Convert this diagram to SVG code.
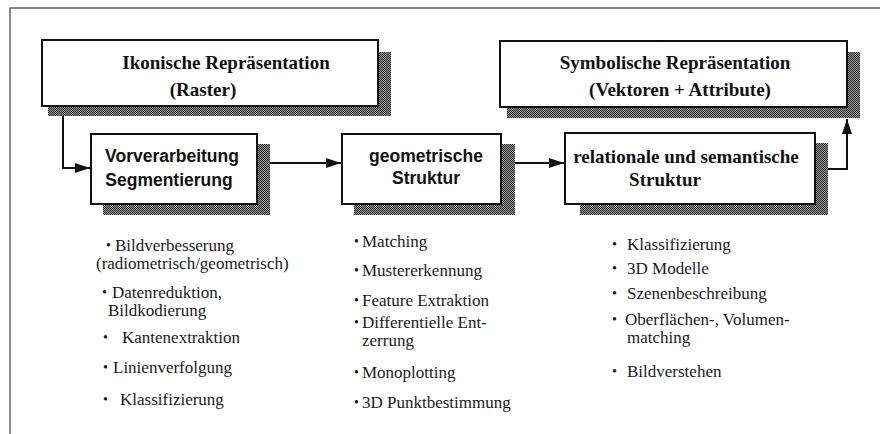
<svg xmlns="http://www.w3.org/2000/svg" width="880" height="434" viewBox="0 0 880 434">
<defs>
<pattern id="dots" width="2" height="2" patternUnits="userSpaceOnUse">
<rect width="2" height="2" fill="#9a9a9a"/>
<rect width="1" height="1" fill="#2a2a2a"/>
<rect x="1" y="1" width="1" height="1" fill="#2a2a2a"/>
</pattern>
<marker id="ah" viewBox="0 0 15 10" refX="15" refY="5" markerWidth="15" markerHeight="10" markerUnits="userSpaceOnUse" orient="auto">
<path d="M0,0 L15,5 L0,10 Z" fill="#111"/>
</marker>
</defs>
<style>
.shadow{fill:url(#dots);stroke:none}
.box{fill:#fff;stroke:#111;stroke-width:2}
.ts{font-family:'Liberation Serif','DejaVu Serif','Times New Roman',serif;font-weight:bold;font-size:19px;fill:#111}
.tn{font-family:'Liberation Sans','DejaVu Sans',Arial,sans-serif;font-weight:bold;font-size:17.5px;fill:#111}
.b{font-family:'Liberation Serif','DejaVu Serif','Times New Roman',serif;font-size:17px;fill:#1a1a1a}
.dot{font-family:'Liberation Serif','DejaVu Serif','Times New Roman',serif;font-size:14px;fill:#1a1a1a}
.conn{fill:none;stroke:#111;stroke-width:2}
.frame{fill:none;stroke:#666;stroke-width:1.5}
</style>
<rect width="880" height="434" fill="#fff"/>
<path class="frame" d="M10,434 V8 H880"/>

<g id="ikonisch">
<rect class="shadow" x="48" y="52" width="343" height="64"/>
<rect class="box" x="42" y="40" width="336" height="66"/>
<text class="ts" x="226" y="69" text-anchor="middle">Ikonische Repräsentation</text>
<text class="ts" x="203" y="96" text-anchor="middle">(Raster)</text>
</g>

<g id="symbolisch">
<rect class="shadow" x="507" y="52" width="353" height="66"/>
<rect class="box" x="500" y="41" width="347" height="66"/>
<text class="ts" x="675" y="69" text-anchor="middle">Symbolische Repräsentation</text>
<text class="ts" x="680" y="96" text-anchor="middle">(Vektoren + Attribute)</text>
</g>

<g id="vorverarbeitung">
<rect class="shadow" x="103" y="144" width="167" height="71"/>
<rect class="box" x="91" y="134" width="166" height="70"/>
<text class="tn" x="172" y="162" text-anchor="middle">Vorverarbeitung</text>
<text class="tn" x="169" y="186" text-anchor="middle">Segmentierung</text>
</g>

<g id="geometrisch">
<rect class="shadow" x="354" y="144" width="161" height="71"/>
<rect class="box" x="342" y="134" width="159" height="70"/>
<text class="tn" x="426" y="162" text-anchor="middle">geometrische</text>
<text class="tn" x="426" y="184" text-anchor="middle">Struktur</text>
</g>

<g id="relational">
<rect class="shadow" x="580" y="143" width="248" height="72"/>
<rect class="box" x="565" y="133" width="250" height="71"/>
<text class="ts" x="686" y="163" text-anchor="middle">relationale und semantische</text>
<text class="ts" x="665" y="186" text-anchor="middle">Struktur</text>
</g>

<g id="connectors">
<path class="conn" d="M63,116 V168 H90" marker-end="url(#ah)"/>
<path class="conn" d="M270,163 H341" marker-end="url(#ah)"/>
<path class="conn" d="M515,163 H564" marker-end="url(#ah)"/>
<path class="conn" d="M828,169 H847 V119" marker-end="url(#ah)"/>
</g>

<g id="liste-vorverarbeitung">
<text class="dot" x="106" y="250">•</text>
<text class="b" x="115" y="251">Bildverbesserung</text>
<text class="b" x="96" y="269">(radiometrisch/geometrisch)</text>
<text class="dot" x="102" y="297">•</text>
<text class="b" x="112" y="298">Datenreduktion,</text>
<text class="b" x="108" y="316">Bildkodierung</text>
<text class="dot" x="103" y="342">•</text>
<text class="b" x="122" y="343">Kantenextraktion</text>
<text class="dot" x="103" y="372">•</text>
<text class="b" x="113" y="373">Linienverfolgung</text>
<text class="dot" x="103" y="404">•</text>
<text class="b" x="120" y="405">Klassifizierung</text>
</g>

<g id="liste-geometrisch">
<text class="dot" x="354" y="246">•</text>
<text class="b" x="362" y="247">Matching</text>
<text class="dot" x="354" y="275">•</text>
<text class="b" x="362" y="276">Mustererkennung</text>
<text class="dot" x="354" y="305">•</text>
<text class="b" x="362" y="306">Feature Extraktion</text>
<text class="dot" x="354" y="327">•</text>
<text class="b" x="362" y="328">Differentielle Ent-</text>
<text class="b" x="362" y="346">zerrung</text>
<text class="dot" x="354" y="377">•</text>
<text class="b" x="362" y="378">Monoplotting</text>
<text class="dot" x="354" y="407">•</text>
<text class="b" x="362" y="408">3D Punktbestimmung</text>
</g>

<g id="liste-relational">
<text class="dot" x="612" y="249">•</text>
<text class="b" x="627" y="250">Klassifizierung</text>
<text class="dot" x="612" y="273">•</text>
<text class="b" x="627" y="274">3D Modelle</text>
<text class="dot" x="612" y="298">•</text>
<text class="b" x="627" y="299">Szenenbeschreibung</text>
<text class="dot" x="612" y="324">•</text>
<text class="b" x="625" y="325">Oberflächen-, Volumen-</text>
<text class="b" x="627" y="343">matching</text>
<text class="dot" x="612" y="376">•</text>
<text class="b" x="627" y="377">Bildverstehen</text>
</g>
</svg>
